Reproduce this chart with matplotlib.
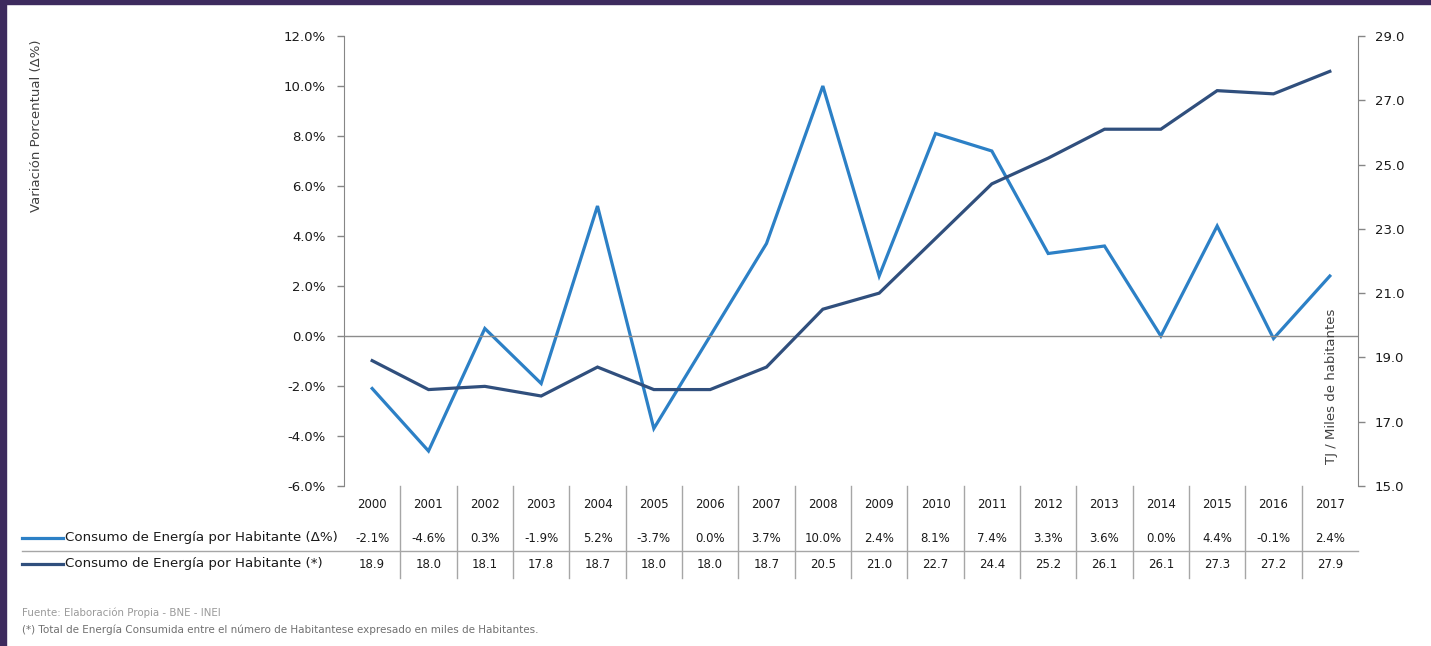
import numpy as np
import matplotlib
matplotlib.use("Agg")
import matplotlib.pyplot as plt
from matplotlib.transforms import blended_transform_factory
from matplotlib.lines import Line2D
from matplotlib.patches import Rectangle

years = ['2000', '2001', '2002', '2003', '2004', '2005', '2006', '2007', '2008',
         '2009', '2010', '2011', '2012', '2013', '2014', '2015', '2016', '2017']
variacion = [-2.1, -4.6, 0.3, -1.9, 5.2, -3.7, 0.0, 3.7, 10.0,
             2.4, 8.1, 7.4, 3.3, 3.6, 0.0, 4.4, -0.1, 2.4]
consumo = [18.9, 18.0, 18.1, 17.8, 18.7, 18.0, 18.0, 18.7, 20.5,
           21.0, 22.7, 24.4, 25.2, 26.1, 26.1, 27.3, 27.2, 27.9]

label_var = 'Consumo de Energía por Habitante (Δ%)'
label_con = 'Consumo de Energía por Habitante (*)'
fuente = 'Fuente: Elaboración Propia - BNE - INEI'
nota = '(*) Total de Energía Consumida entre el número de Habitantese expresado en miles de Habitantes.'

light_blue = '#2c80c6'
dark_blue = '#304f7d'
grid_gray = '#a6a6a6'
W, H = 1431, 646


def fy(py):
    # pixel row -> figure fraction
    return 1 - py / H


fig = plt.figure(figsize=(W / 100, H / 100), dpi=100)
fig.patches.append(Rectangle((0, fy(4)), 1, 4 / H, transform=fig.transFigure,
                             color='#3d2b5e', zorder=10))
fig.patches.append(Rectangle((0, 0), 6 / W, 1, transform=fig.transFigure,
                             color='#3d2b5e', zorder=10))

ax = fig.add_axes([344 / W, fy(486), (1358 - 344) / W, (486 - 36) / H])
ax2 = ax.twinx()

x = np.arange(len(years))
ax.plot(x, variacion, color=light_blue, lw=2.3, solid_joinstyle='miter')
ax2.plot(x, consumo, color=dark_blue, lw=2.3, solid_joinstyle='miter')
ax.axhline(0, color='#8c8c8c', lw=1)

ax.set_xlim(-0.5, len(years) - 0.5)
ax.set_ylim(-6, 12)
ax.set_yticks(np.arange(-6, 13, 2))
ax.set_yticklabels([f'{v:.1f}%' for v in np.arange(-6, 13, 2)])
ax2.set_ylim(15, 29)
ax2.set_yticks(np.arange(15, 30, 2))
ax2.set_yticklabels([f'{v:.1f}' for v in np.arange(15, 30, 2)])
ax.set_xticks([])

for a in (ax, ax2):
    for s in ('top', 'bottom'):
        a.spines[s].set_visible(False)
    a.tick_params(axis='y', length=5, width=1, color='#868686',
                  labelsize=9.5, labelcolor='#1a1a1a')
ax.tick_params(axis='y', pad=8)
ax2.tick_params(axis='y', pad=7)
ax.spines['left'].set_color('#868686')
ax2.spines['right'].set_color('#868686')
ax2.spines['left'].set_visible(False)
ax.spines['right'].set_visible(False)

fig.text(37 / W, fy(126), 'Variación Porcentual (Δ%)', rotation=90,
         ha='center', va='center', fontsize=9.5, color='#404040')
fig.text(1332 / W, fy(386), 'TJ / Miles de habitantes', rotation=90,
         ha='center', va='center', fontsize=9.5, color='#404040')

# data table under the plot
tr = blended_transform_factory(ax.transData, fig.transFigure)
for k in range(1, len(years)):
    fig.lines.append(Line2D([k - 0.5, k - 0.5], [fy(486), fy(578)],
                            transform=tr, color=grid_gray, lw=1))
fig.lines.append(Line2D([22 / W, 1358 / W], [fy(551), fy(551)],
                        transform=fig.transFigure, color=grid_gray, lw=1))

for i, yr in enumerate(years):
    ax.text(i, fy(504), yr, transform=tr, ha='center', va='center',
            fontsize=8.5, color='#1a1a1a')
    ax.text(i, fy(538), f'{variacion[i]:.1f}%', transform=tr, ha='center',
            va='center', fontsize=8.5, color='#1a1a1a')
    ax.text(i, fy(564), f'{consumo[i]:.1f}', transform=tr, ha='center',
            va='center', fontsize=8.5, color='#1a1a1a')

for py, col, lab in ((538, light_blue, label_var), (564, dark_blue, label_con)):
    fig.lines.append(Line2D([22 / W, 63 / W], [fy(py), fy(py)],
                            transform=fig.transFigure, color=col, lw=2.3))
    fig.text(65 / W, fy(py), lab, ha='left', va='center', fontsize=9.6,
             color='#1a1a1a')

fig.text(22 / W, fy(613), fuente, ha='left', va='center', fontsize=7.4,
         color='#9a9a9a')
fig.text(22 / W, fy(630), nota, ha='left', va='center', fontsize=7.5,
         color='#707070')

fig.savefig('out.png', dpi=100, facecolor='white')
